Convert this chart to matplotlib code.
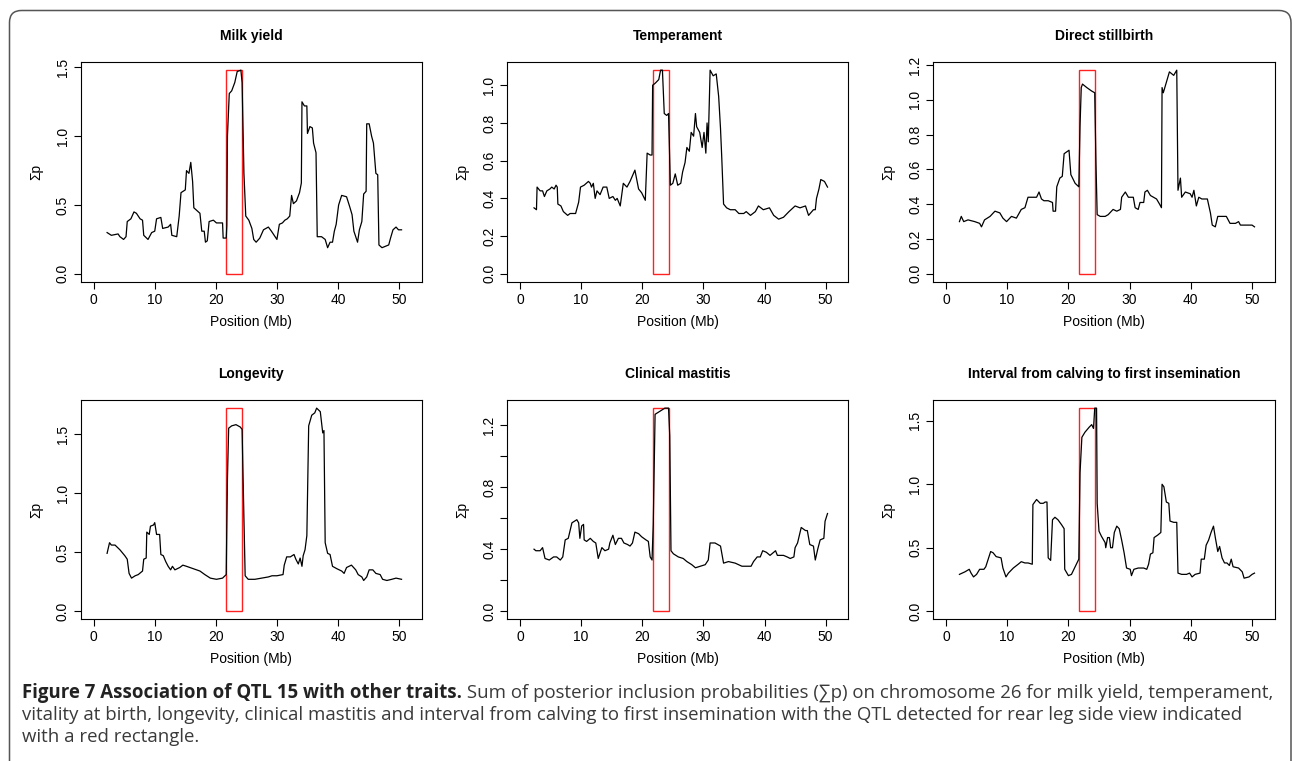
import matplotlib
matplotlib.use("Agg")
import matplotlib.pyplot as plt
from matplotlib.patches import Rectangle, FancyBboxPatch
from matplotlib.transforms import IdentityTransform

plt.rcParams['font.family'] = ['Liberation Sans', 'DejaVu Sans']

# traits (panel titles)
titles = ["Milk yield", "Temperament", "Direct stillbirth",
          "Longevity", "Clinical mastitis",
          "Interval from calving to first insemination"]

# QTL region (Mb) drawn as red box
qtl_start, qtl_end = 21.7, 24.3

# positions (Mb) and sum of posterior inclusion probabilities
milk_x = [2.2, 2.9, 4.0, 4.3, 4.9, 5.3, 5.5, 6.1, 6.6, 7.0, 7.6, 8.0, 8.2, 8.9, 9.5, 10.0,
          10.3, 11.0, 11.3, 12.2, 12.6, 12.8, 13.6, 14.0, 14.3, 15.0, 15.2, 15.6, 15.9, 16.2,
          16.4, 16.9, 17.4, 17.7, 18.1, 18.3, 18.6, 18.9, 19.6, 20.1, 21.1, 21.2, 21.7, 21.8,
          21.9, 22.2, 22.6, 23.1, 23.5, 24.1, 24.3, 24.6, 24.9, 25.4, 25.9, 26.2, 26.6, 27.2,
          27.8, 28.6, 29.1, 30.0, 30.4, 30.9, 31.3, 31.7, 32.1, 32.4, 32.7, 33.2, 33.7, 34.0,
          34.1, 34.5, 34.9, 35.0, 35.4, 35.8, 36.0, 36.4, 36.6, 37.3, 37.9, 38.3, 38.7, 39.1,
          39.4, 39.7, 40.1, 40.6, 41.4, 41.9, 42.3, 42.6, 43.2, 43.5, 43.9, 44.2, 44.6, 44.7,
          45.1, 45.5, 45.8, 46.2, 46.5, 46.7, 47.2, 48.3, 48.6, 49.0, 49.5, 49.9, 50.4]
milk_y = [0.30, 0.28, 0.29, 0.27, 0.25, 0.27, 0.38, 0.40, 0.45, 0.44, 0.40, 0.39, 0.28, 0.25,
          0.30, 0.31, 0.40, 0.41, 0.33, 0.34, 0.36, 0.28, 0.27, 0.42, 0.59, 0.61, 0.75, 0.73,
          0.81, 0.67, 0.48, 0.46, 0.44, 0.31, 0.31, 0.23, 0.24, 0.38, 0.39, 0.37, 0.37, 0.26,
          0.26, 0.35, 1.00, 1.31, 1.33, 1.39, 1.47, 1.48, 1.39, 0.73, 0.42, 0.39, 0.33, 0.25,
          0.23, 0.26, 0.32, 0.34, 0.31, 0.25, 0.36, 0.37, 0.39, 0.40, 0.42, 0.57, 0.51, 0.53,
          0.59, 0.66, 1.25, 1.22, 1.22, 1.02, 1.07, 1.06, 0.95, 0.88, 0.27, 0.27, 0.25, 0.19,
          0.23, 0.23, 0.31, 0.36, 0.50, 0.57, 0.56, 0.49, 0.43, 0.31, 0.23, 0.32, 0.38, 0.58,
          0.60, 1.09, 1.09, 1.00, 0.95, 0.73, 0.72, 0.21, 0.19, 0.21, 0.26, 0.32, 0.34, 0.32,
          0.32]

temp_x = [2.3, 2.7, 2.8, 3.3, 3.7, 4.0, 4.4, 4.9, 5.2, 5.6, 5.9, 6.1, 6.2, 6.7, 7.1, 7.8,
          8.2, 9.1, 9.6, 9.9, 10.5, 11.2, 11.5, 11.7, 12.0, 12.3, 12.6, 13.1, 13.6, 14.2, 14.6,
          15.2, 15.6, 15.9, 16.4, 16.9, 17.5, 18.0, 18.8, 19.4, 19.9, 20.5, 20.8, 21.3, 21.6,
          21.7, 22.1, 22.7, 23.0, 23.3, 23.6, 24.0, 24.3, 24.6, 25.0, 25.4, 25.8, 26.3, 26.6,
          27.0, 27.3, 27.7, 28.0, 28.4, 28.7, 28.9, 29.4, 29.8, 30.1, 30.4, 30.6, 30.8, 31.1,
          31.6, 32.1, 32.5, 32.8, 33.0, 33.3, 33.8, 34.4, 35.2, 35.8, 36.6, 37.0, 37.7, 38.5,
          39.0, 39.8, 40.8, 41.5, 42.3, 43.1, 44.0, 45.0, 45.8, 46.7, 47.2, 48.0, 48.3, 48.5,
          48.9, 49.2, 49.8, 50.3]
temp_y = [0.35, 0.34, 0.46, 0.44, 0.44, 0.41, 0.44, 0.45, 0.46, 0.45, 0.47, 0.46, 0.37, 0.36,
          0.33, 0.31, 0.32, 0.32, 0.38, 0.46, 0.47, 0.49, 0.48, 0.46, 0.48, 0.40, 0.44, 0.42,
          0.46, 0.46, 0.40, 0.41, 0.39, 0.40, 0.36, 0.48, 0.46, 0.49, 0.55, 0.45, 0.43, 0.39,
          0.64, 0.63, 0.63, 1.00, 1.01, 1.03, 1.08, 1.08, 0.85, 0.84, 0.85, 0.47, 0.48, 0.53,
          0.47, 0.48, 0.54, 0.59, 0.67, 0.65, 0.75, 0.73, 0.85, 0.78, 0.75, 0.67, 0.75, 0.64,
          0.80, 0.70, 1.08, 1.05, 1.06, 0.94, 0.77, 0.62, 0.37, 0.35, 0.34, 0.34, 0.32, 0.32,
          0.33, 0.31, 0.33, 0.36, 0.34, 0.35, 0.31, 0.29, 0.30, 0.33, 0.36, 0.35, 0.36, 0.31,
          0.34, 0.34, 0.40, 0.45, 0.50, 0.49, 0.46]

still_x = [2.2, 2.5, 2.9, 3.6, 4.7, 5.5, 5.8, 6.3, 7.2, 8.0, 8.8, 9.3, 9.9, 10.7, 11.5, 12.3,
           12.9, 13.4, 14.2, 14.8, 15.2, 15.6, 16.0, 16.7, 17.4, 17.5, 17.9, 18.1, 18.6, 19.0,
           19.3, 19.7, 20.1, 20.4, 21.1, 21.7, 21.9, 22.1, 22.3, 23.0, 23.8, 24.3, 24.5, 24.7,
           25.2, 26.0, 26.5, 27.3, 27.9, 28.5, 28.7, 29.3, 29.8, 30.6, 30.9, 31.4, 31.7, 32.3,
           32.5, 32.9, 33.4, 33.9, 34.4, 34.9, 35.2, 35.3, 35.5, 36.0, 36.5, 37.2, 37.7, 37.9,
           38.3, 38.5, 39.1, 39.9, 40.2, 40.5, 40.9, 41.3, 41.8, 42.7, 43.2, 43.5, 44.0, 44.4,
           45.1, 45.8, 46.4, 47.3, 47.8, 48.1, 49.2, 50.0, 50.4]
still_y = [0.30, 0.33, 0.30, 0.31, 0.30, 0.29, 0.27, 0.31, 0.33, 0.36, 0.35, 0.32, 0.30, 0.33,
           0.32, 0.37, 0.38, 0.44, 0.44, 0.44, 0.47, 0.43, 0.42, 0.42, 0.41, 0.36, 0.36, 0.50,
           0.55, 0.56, 0.69, 0.70, 0.71, 0.57, 0.52, 0.50, 0.85, 1.07, 1.09, 1.07, 1.05, 1.04,
           0.64, 0.34, 0.33, 0.33, 0.34, 0.37, 0.36, 0.37, 0.44, 0.47, 0.44, 0.44, 0.38, 0.37,
           0.41, 0.41, 0.47, 0.48, 0.45, 0.44, 0.43, 0.40, 0.38, 1.07, 1.04, 1.10, 1.16, 1.14,
           1.17, 0.48, 0.55, 0.44, 0.47, 0.46, 0.44, 0.48, 0.39, 0.44, 0.43, 0.43, 0.35, 0.28,
           0.27, 0.33, 0.33, 0.33, 0.29, 0.29, 0.30, 0.28, 0.28, 0.28, 0.27]

long_x = [2.2, 2.6, 2.9, 3.5, 4.3, 5.1, 5.5, 5.8, 6.2, 6.8, 7.3, 8.0, 8.2, 8.6, 8.7, 9.1, 9.3,
          9.8, 10.0, 10.3, 10.8, 11.0, 11.4, 11.8, 12.2, 12.6, 12.9, 13.3, 14.1, 14.6, 15.2,
          16.3, 17.4, 18.2, 19.1, 20.1, 21.1, 21.7, 21.9, 22.1, 22.6, 23.3, 24.0, 24.3, 24.5,
          24.8, 25.3, 26.4, 27.5, 28.6, 29.2, 30.0, 31.0, 31.2, 31.6, 32.2, 32.8, 33.1, 33.5,
          33.8, 34.1, 34.3, 34.6, 34.9, 35.2, 35.7, 36.2, 36.5, 37.1, 37.5, 37.7, 37.9, 38.3,
          38.7, 39.1, 39.8, 40.6, 41.0, 41.4, 42.2, 42.9, 43.3, 43.9, 44.2, 44.7, 45.1, 45.7,
          46.2, 46.9, 47.3, 48.0, 48.8, 49.5, 50.4]
long_y = [0.49, 0.58, 0.56, 0.56, 0.52, 0.47, 0.44, 0.32, 0.28, 0.30, 0.31, 0.34, 0.44, 0.45,
          0.67, 0.65, 0.72, 0.73, 0.75, 0.65, 0.65, 0.48, 0.47, 0.42, 0.38, 0.35, 0.38, 0.35,
          0.37, 0.39, 0.38, 0.36, 0.34, 0.31, 0.28, 0.27, 0.28, 0.31, 1.12, 1.55, 1.57, 1.58,
          1.56, 1.54, 1.03, 0.30, 0.27, 0.27, 0.28, 0.29, 0.30, 0.30, 0.31, 0.39, 0.46, 0.46,
          0.48, 0.44, 0.40, 0.45, 0.38, 0.47, 0.52, 0.64, 1.57, 1.66, 1.68, 1.72, 1.69, 1.51,
          1.53, 0.58, 0.49, 0.48, 0.38, 0.36, 0.34, 0.32, 0.37, 0.39, 0.35, 0.31, 0.29, 0.26,
          0.29, 0.35, 0.35, 0.32, 0.31, 0.27, 0.26, 0.27, 0.28, 0.27]

mast_x = [2.3, 2.6, 3.3, 3.7, 4.1, 4.8, 5.5, 6.0, 6.6, 7.0, 7.4, 7.9, 8.5, 9.3, 9.6, 9.8, 10.1,
          10.4, 10.5, 10.9, 11.5, 12.0, 12.4, 12.8, 13.4, 13.9, 14.5, 14.7, 15.2, 15.6, 16.1,
          16.6, 17.0, 17.6, 18.0, 18.4, 18.8, 19.4, 19.9, 20.6, 21.0, 21.3, 21.6, 21.8, 22.1,
          22.9, 23.7, 24.3, 24.5, 24.7, 25.1, 25.9, 26.7, 27.3, 28.1, 28.7, 29.5, 30.3, 30.8,
          31.1, 31.9, 32.8, 33.3, 34.1, 35.2, 36.3, 36.8, 37.8, 38.2, 38.8, 39.3, 39.7, 40.3,
          40.9, 41.8, 42.1, 43.1, 43.7, 44.2, 44.8, 45.0, 45.4, 46.0, 46.7, 47.0, 47.4, 48.0,
          48.3, 48.7, 49.1, 49.7, 49.9, 50.3]
mast_y = [0.40, 0.39, 0.39, 0.41, 0.34, 0.33, 0.35, 0.35, 0.33, 0.35, 0.46, 0.47, 0.57, 0.59,
          0.57, 0.47, 0.55, 0.56, 0.46, 0.45, 0.47, 0.45, 0.44, 0.34, 0.41, 0.39, 0.40, 0.44,
          0.49, 0.43, 0.47, 0.47, 0.44, 0.43, 0.42, 0.44, 0.51, 0.50, 0.48, 0.46, 0.45, 0.35,
          0.33, 0.56, 1.27, 1.29, 1.31, 1.31, 1.13, 0.39, 0.37, 0.35, 0.34, 0.32, 0.30, 0.28,
          0.29, 0.30, 0.33, 0.44, 0.44, 0.42, 0.31, 0.32, 0.31, 0.29, 0.29, 0.29, 0.32, 0.35,
          0.35, 0.39, 0.38, 0.36, 0.39, 0.36, 0.36, 0.35, 0.34, 0.35, 0.41, 0.44, 0.54, 0.52,
          0.52, 0.43, 0.42, 0.33, 0.40, 0.46, 0.47, 0.58, 0.63]

calv_x = [2.2, 3.1, 3.8, 4.1, 4.5, 5.0, 5.5, 6.2, 6.5, 6.9, 7.3, 7.7, 8.2, 9.0, 9.3, 9.8, 10.2,
          11.0, 11.8, 12.3, 12.9, 13.4, 14.1, 14.2, 14.8, 15.4, 15.9, 16.2, 16.5, 16.7, 17.1,
          17.4, 17.8, 18.3, 18.9, 19.3, 19.4, 20.0, 20.5, 21.1, 21.7, 21.9, 22.2, 22.7, 23.4,
          23.8, 24.1, 24.3, 24.6, 24.7, 25.0, 25.4, 26.0, 26.1, 26.4, 26.7, 26.9, 27.2, 27.5,
          27.9, 28.3, 28.7, 29.1, 29.5, 30.1, 30.3, 30.7, 31.4, 32.3, 32.8, 33.1, 33.4, 33.8,
          34.0, 34.6, 35.1, 35.3, 35.6, 36.0, 36.4, 36.6, 37.2, 37.7, 37.9, 38.5, 39.3, 39.8,
          40.2, 40.7, 41.5, 41.7, 42.2, 42.5, 42.9, 43.3, 43.7, 44.0, 44.4, 44.7, 45.1, 45.5,
          45.9, 46.3, 46.6, 46.9, 47.8, 48.4, 48.7, 49.5, 50.0, 50.4]
calv_y = [0.29, 0.31, 0.33, 0.30, 0.27, 0.29, 0.33, 0.33, 0.35, 0.41, 0.47, 0.46, 0.43, 0.42,
          0.34, 0.27, 0.30, 0.34, 0.37, 0.39, 0.38, 0.38, 0.37, 0.84, 0.88, 0.85, 0.85, 0.86,
          0.86, 0.42, 0.40, 0.72, 0.74, 0.72, 0.68, 0.65, 0.33, 0.28, 0.29, 0.35, 0.41, 1.09,
          1.37, 1.41, 1.45, 1.47, 1.44, 1.60, 1.60, 0.85, 0.63, 0.59, 0.54, 0.50, 0.58, 0.58,
          0.50, 0.50, 0.62, 0.67, 0.65, 0.56, 0.46, 0.34, 0.33, 0.28, 0.33, 0.34, 0.34, 0.33,
          0.37, 0.45, 0.46, 0.58, 0.60, 0.62, 1.00, 0.98, 0.86, 0.85, 0.71, 0.70, 0.70, 0.30,
          0.29, 0.29, 0.30, 0.27, 0.29, 0.30, 0.41, 0.41, 0.52, 0.56, 0.62, 0.67, 0.58, 0.47,
          0.51, 0.42, 0.38, 0.38, 0.36, 0.41, 0.35, 0.34, 0.31, 0.26, 0.27, 0.29, 0.30]

series = [(milk_x, milk_y), (temp_x, temp_y), (still_x, still_y),
          (long_x, long_y), (mast_x, mast_y), (calv_x, calv_y)]

ytick_sets = [[0.0, 0.5, 1.0, 1.5],
              [0.0, 0.2, 0.4, 0.6, 0.8, 1.0],
              [0.0, 0.2, 0.4, 0.6, 0.8, 1.0, 1.2],
              [0.0, 0.5, 1.0, 1.5],
              [0.0, 0.2, 0.4, 0.6, 0.8, 1.0, 1.2],
              [0.0, 0.5, 1.0, 1.5]]
# R drops overlapping labels in the mastitis panel
ylabel_skip = [[], [], [], [], [0.2, 0.6, 1.0], []]

W, H = 1292, 761
fig = plt.figure(figsize=(W / 100, H / 100), dpi=100)

# panel boxes in pixels: left, top, right, bottom
boxes = [(81, 62, 421.7, 282), (507.3, 62, 848.3, 282), (933.3, 62, 1274.7, 282),
         (81, 400, 421.7, 619.3), (507.3, 400, 848.3, 619.3), (933.3, 400, 1274.7, 619.3)]

for i, (l, t, r, b) in enumerate(boxes):
    ax = fig.add_axes([l / W, 1 - b / H, (r - l) / W, (b - t) / H])
    xs, ys = series[i]
    ymax = max(ys)
    ax.plot(xs, ys, color='black', lw=0.9)
    ax.add_patch(Rectangle((qtl_start, 0), qtl_end - qtl_start, ymax,
                           fill=False, edgecolor='#ff2020', lw=1.0))
    ax.set_xlim(-2.07, 53.7)
    ax.set_ylim(-0.04 * ymax, 1.04 * ymax)
    ax.set_xticks([0, 10, 20, 30, 40, 50])
    yt = ytick_sets[i]
    ax.set_yticks(yt)
    ax.set_yticklabels(['' if v in ylabel_skip[i] else f'{v:.1f}' for v in yt])
    ax.tick_params(length=5, width=0.8, labelsize=10, pad=3)
    ax.tick_params(axis='y', labelrotation=90)
    for lab in ax.get_yticklabels():
        lab.set_va('center')
    for s in ax.spines.values():
        s.set_linewidth(0.8)
    ax.set_title(titles[i], fontsize=10, fontweight='bold', pad=16)
    ax.set_xlabel('Position (Mb)', fontsize=10)
    ax.set_ylabel('Σp', fontsize=10)
    ax.xaxis.set_label_coords(0.5, -0.15)
    ax.yaxis.set_label_coords(-0.112, 0.5)

# outer rounded frame
frame = FancyBboxPatch((9.5, -40), 1281.5, 790.5,
                       boxstyle='round,pad=0,rounding_size=12',
                       fill=False, edgecolor='#555555', lw=1.1,
                       transform=IdentityTransform())
fig.add_artist(frame)

# caption
cap_font = ['Open Sans', 'DejaVu Sans']
cap_size = 13.4
bold_part = "Figure 7 Association of QTL 15 with other traits."
rest_1 = " Sum of posterior inclusion probabilities (∑p) on chromosome 26 for milk yield, temperament,"
line_2 = "vitality at birth, longevity, clinical mastitis and interval from calving to first insemination with the QTL detected for rear leg side view indicated"
line_3 = "with a red rectangle."

x0 = 22 / W
t1 = fig.text(x0, 1 - 698 / H, bold_part, family=cap_font, fontsize=cap_size,
              fontweight='bold', va='baseline', color='#222222')
fig.canvas.draw()
bb = t1.get_window_extent(renderer=fig.canvas.get_renderer())
fig.text(bb.x1 / W, 1 - 698 / H, rest_1, family=cap_font, fontsize=cap_size,
         va='baseline', color='#3a3a3a')
fig.text(x0, 1 - 720 / H, line_2, family=cap_font, fontsize=cap_size,
         va='baseline', color='#3a3a3a')
fig.text(x0, 1 - 742 / H, line_3, family=cap_font, fontsize=cap_size,
         va='baseline', color='#3a3a3a')

fig.savefig('out.png', dpi=100)
